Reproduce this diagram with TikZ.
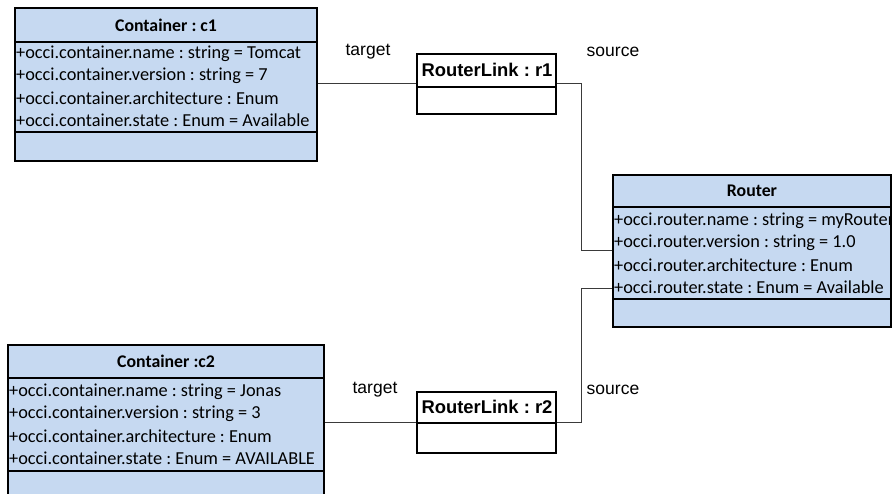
\documentclass[tikz,border=0pt]{standalone}
\usepackage{fontspec}
\setmainfont{Carlito}
\newfontfamily\arialf{Liberation Sans}
\definecolor{clsfill}{HTML}{C6D9F1}
\definecolor{linkline}{HTML}{3A3A3A}
\frenchspacing
\tikzset{
  classbox/.style={draw=black, line width=1.4pt, fill=clsfill, inner sep=0pt},
  linkbox/.style={draw=black, line width=1.4pt, fill=white, inner sep=0pt},
  divider/.style={draw=black, line width=1.4pt},
  ctitle/.style={font=\fontsize{17.8}{20}\selectfont\bfseries, inner sep=0pt},
  attr/.style={font=\fontsize{18.3}{21.8}\selectfont, inner sep=0pt, anchor=west, align=left},
  ltitle/.style={font=\arialf\fontsize{18.4}{21}\selectfont\bfseries, inner sep=0pt},
  rolelbl/.style={font=\arialf\fontsize{17.5}{20}\selectfont, inner sep=0pt},
  conn/.style={draw=linkline, line width=1pt}
}
\begin{document}
\begin{tikzpicture}[x=1pt,y=-1pt]
\useasboundingbox (0,0) rectangle (892,494);
\clip (0,0) rectangle (892,494);
% Container c1
\node[classbox, minimum width=302pt, minimum height=153pt] (c1) at (166,84.5) {};
\draw[divider] (15,42) -- (317,42);
\draw[divider] (15,132) -- (317,132);
\node[ctitle] (c1t) at (166,25) {Container : c1};
\node[attr] (c1a1) at (16,54) {+occi.container.name : string = Tomcat};
\node[attr] (c1a2) at (16,76) {+occi.container.version : string = 7};
\node[attr] (c1a3) at (16,98) {+occi.container.architecture : Enum};
\node[attr] (c1a4) at (16,120) {+occi.container.state : Enum = Available};
% Container c2
\node[classbox, minimum width=316pt, minimum height=175pt] (c2) at (166,432.5) {};
\draw[divider] (8,378) -- (324,378);
\draw[divider] (8,471) -- (324,471);
\node[ctitle] (c2t) at (166,361) {Container :c2};
\node[attr] (c2a1) at (9,392) {+occi.container.name : string = Jonas};
\node[attr] (c2a2) at (9,414) {+occi.container.version : string = 3};
\node[attr] (c2a3) at (9,436) {+occi.container.architecture : Enum};
\node[attr] (c2a4) at (9,458) {+occi.container.state : Enum = AVAILABLE};
% Router
\node[classbox, minimum width=278pt, minimum height=152pt] (rt) at (752,251) {};
\draw[divider] (613,207) -- (891,207);
\draw[divider] (613,299) -- (891,299);
\node[ctitle] (rtt) at (752,191) {Router};
\node[attr] (rta1) at (614,221) {+occi.router.name : string = myRouter};
\node[attr] (rta2) at (614,243) {+occi.router.version : string = 1.0};
\node[attr] (rta3) at (614,265) {+occi.router.architecture : Enum};
\node[attr] (rta4) at (614,287) {+occi.router.state : Enum = Available};
% RouterLink r1
\node[linkbox, minimum width=139pt, minimum height=60pt] (r1) at (486.5,84) {};
\draw[divider] (417,87) -- (556,87);
\node[ltitle] (r1t) at (487,70) {RouterLink : r1};
% RouterLink r2
\node[linkbox, minimum width=139pt, minimum height=61pt] (r2) at (486.5,422.5) {};
\draw[divider] (417,423) -- (556,423);
\node[ltitle] (r2t) at (487,407) {RouterLink : r2};
% connector coordinates
\coordinate (k1) at (581,84);
\coordinate (k2) at (581,251);
\coordinate (k3) at (581,289);
\coordinate (k4) at (581,422);
% connectors
\draw[conn] (c1.east |- k1) -- (r1.west |- k1);
\draw[conn] (r1.east |- k1) -- (k1) -- (k2) -- (rt.west |- k2);
\draw[conn] (c2.east |- k4) -- (r2.west |- k4);
\draw[conn] (r2.east |- k4) -- (k4) -- (k3) -- (rt.west |- k3);
% role labels
\node[rolelbl] (l1) at (368,52) {target};
\node[rolelbl] (l2) at (613,52) {source};
\node[rolelbl] (l3) at (375,390) {target};
\node[rolelbl] (l4) at (613,390) {source};
\end{tikzpicture}
\end{document}
